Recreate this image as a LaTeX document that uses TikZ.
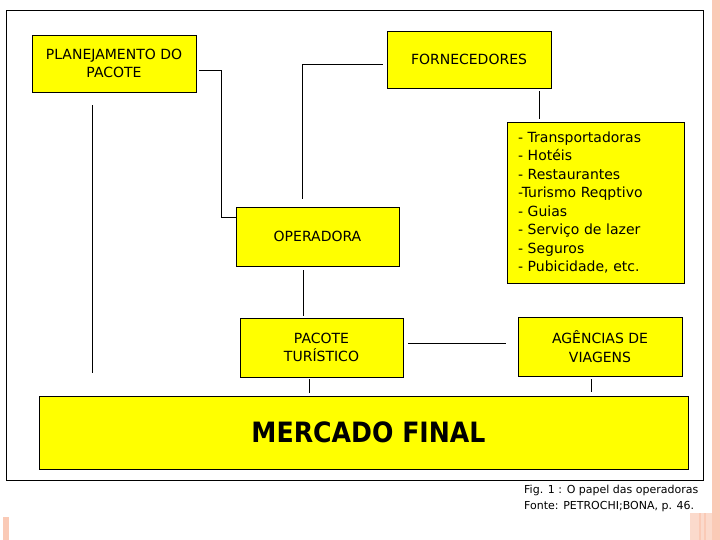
\documentclass[tikz,border=0pt]{standalone}
\usepackage{fontspec}
\setmainfont{DejaVu Sans}
\newfontfamily\titulofont[FakeStretch=0.9]{DejaVu Sans}
\definecolor{amarelo}{RGB}{255,255,0}
\definecolor{rosa}{RGB}{250,202,182}
\definecolor{rosaclaro}{RGB}{251,218,204}
\begin{document}
\begin{tikzpicture}[x=1pt,y=-1pt,
  caixa/.style={draw,fill=amarelo,line width=0.8pt,inner sep=0pt,align=center,font=\fontsize{14}{18.5}\selectfont},
  liga/.style={line width=0.8pt}]
\fill[white] (0,0) rectangle (720,540);
\useasboundingbox (0,0) rectangle (720,540);
\fill[rosa] (712,0) rectangle (720,540);
\fill[rosa] (3,517) rectangle (9,540);
\fill[rosaclaro] (690,513) rectangle (712,540);
\draw[rosa,line width=1.5pt] (700,513) -- (700,540);
\draw[rosa,line width=1.5pt] (705,513) -- (705,540);
\draw[line width=1pt] (6,11) rectangle (703,480);

\node[caixa,minimum width=164,minimum height=57] (plan) at (114,63.5) {PLANEJAMENTO DO\\PACOTE};
\node[caixa,minimum width=164,minimum height=57] (forn) at (469,59.5) {FORNECEDORES};
\node[caixa,minimum width=177,minimum height=161,text width=155,align=left,inner xsep=11]
  (lista) at (595.5,202.5) {- Transportadoras\\- Hotéis\\- Restaurantes\\-Turismo Reqptivo\\- Guias\\- Serviço de lazer\\- Seguros\\- Pubicidade, etc.};
\node[caixa,minimum width=163,minimum height=59] (oper) at (317.5,236.5) {OPERADORA};
\node[caixa,minimum width=163,minimum height=59] (pacote) at (321.5,347.5) {PACOTE\\TURÍSTICO};
\node[caixa,minimum width=164,minimum height=59] (agenc) at (600,346.5) {AGÊNCIAS DE\\VIAGENS};
\node[caixa,minimum width=649,minimum height=73,font=\titulofont\bfseries\fontsize{28}{30}\selectfont] (mercado) at (363.5,432.5) {\hspace*{10pt}MERCADO FINAL};

\draw[liga] ([shift={(3,6.5)}]plan.east) -- ++(22,0) |- ([shift={(0,-19.5)}]oper.west);
\draw[liga] ([shift={(-15.5,-8)}]oper.north) |- ([shift={(-4,4.5)}]forn.west);
\draw[liga] ([shift={(70,3)}]forn.south) -- ([shift={(-56.5,-3)}]lista.north);
\draw[liga] ([shift={(-14.5,4)}]oper.south) -- ([shift={(-18.5,-2)}]pacote.north);
\draw[liga,shorten >=23pt] ([shift={(-22,13)}]plan.south) -- ([xshift=-22pt]plan.south |- mercado.north);
\draw[liga] ([shift={(-12.5,2)}]pacote.south) -- ([shift={(-54.5,-3)}]mercado.north);
\draw[liga] ([shift={(5,-4.5)}]pacote.east) -- ([shift={(-12,-3.5)}]agenc.west);
\draw[liga] ([shift={(-9,3)}]agenc.south) -- ([shift={(227.5,-4)}]mercado.north);

\node[anchor=north west,align=left,inner sep=0pt,font=\fontsize{11}{16}\selectfont] (fonte) at (524,485)
  {Fig. 1 : O papel das operadoras\\Fonte: PETROCHI;BONA, p. 46.};
\end{tikzpicture}
\end{document}
